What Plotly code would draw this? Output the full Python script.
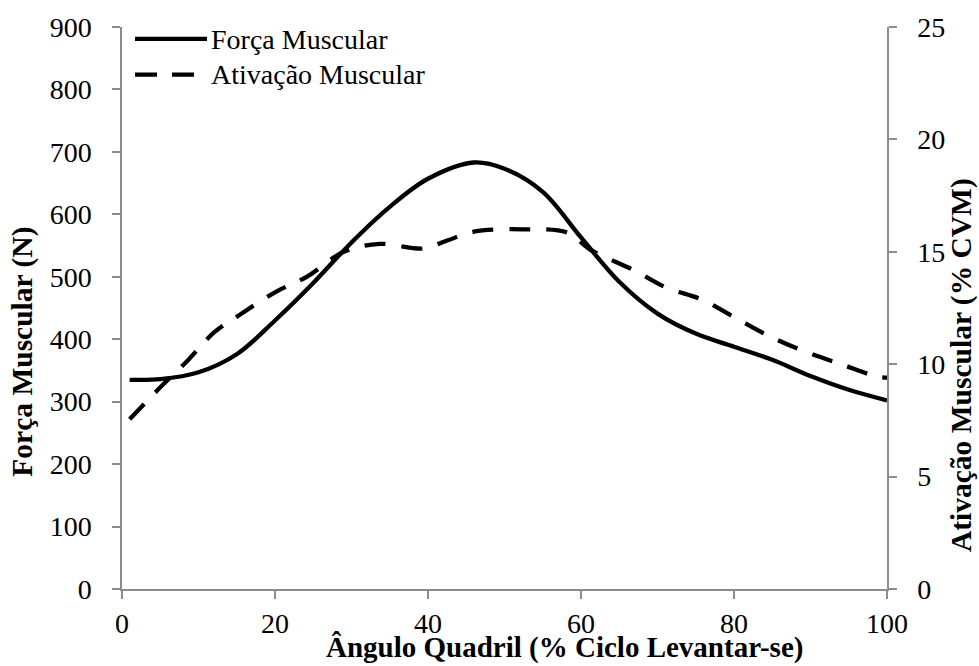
import plotly.graph_objects as go

# Data
x_force = [1, 5, 10, 15, 20, 25, 30, 35, 40, 46, 50, 55, 60, 65, 70, 75, 80, 85, 90, 95, 100]
force = [335, 336, 347, 376, 430, 490, 555, 612, 657, 683, 673, 636, 563, 492, 441, 409, 388, 367, 341, 319, 302]

x_act = [1, 4.5, 8.4, 12, 15.4, 20, 24.2, 29, 33.7, 39.4, 42.5, 46, 52.4, 58.2, 61.2, 66.8, 71.2, 75.6, 80, 84.3, 89, 94, 98.7, 100]
act = [7.55, 8.8, 10.1, 11.4, 12.2, 13.2, 13.9, 15.0, 15.35, 15.15, 15.5, 15.9, 16.0, 15.85, 15.1, 14.2, 13.4, 12.9, 12.1, 11.3, 10.6, 10.0, 9.45, 9.4]

x_ticks = [0, 20, 40, 60, 80, 100]
y_ticks = [0, 100, 200, 300, 400, 500, 600, 700, 800, 900]
y2_ticks = [0, 5, 10, 15, 20, 25]

FONT = "Liberation Serif, Times New Roman, serif"
AX = "#8c8c8c"

fig = go.Figure()
fig.add_trace(go.Scatter(x=x_force, y=force, mode="lines", name="Força Muscular",
                         line=dict(color="black", width=4.3, shape="spline", smoothing=1.0),
                         showlegend=False))
fig.add_trace(go.Scatter(x=x_act, y=act, mode="lines", name="Ativação Muscular", yaxis="y2",
                         line=dict(color="black", width=4.3, shape="spline", smoothing=1.0, dash="21px,16px"),
                         showlegend=False))

W, H = 979, 666
L, R, T, B = 122, 92, 23, 77
pw, ph = W - L - R, H - T - B

def px(xp):
    return (xp - L) / pw

def py(yp):
    return (H - B - yp) / ph

axis_common = dict(showline=True, linecolor=AX, linewidth=1.5, ticks="outside", ticklen=8,
                   tickcolor=AX, tickwidth=1.5, showgrid=False, zeroline=False,
                   tickfont=dict(family=FONT, size=28, color="black"))

fig.update_layout(
    width=W, height=H,
    margin=dict(l=L, r=R, t=T, b=B),
    paper_bgcolor="white", plot_bgcolor="white",
    xaxis=dict(range=[0, 100], tickvals=x_ticks, ticklabelstandoff=1, **axis_common),
    yaxis=dict(range=[0, 900], tickvals=y_ticks, ticklabelstandoff=15, **axis_common),
    yaxis2=dict(range=[0, 25], tickvals=y2_ticks, overlaying="y", side="right",
                ticklabelstandoff=15, **axis_common),
    showlegend=False,
)

# Axis titles
fig.add_annotation(text="<b>Ângulo Quadril (% Ciclo Levantar-se)</b>", xref="paper", yref="paper",
                   x=px(564), y=py(666), xanchor="center", yanchor="bottom", showarrow=False,
                   font=dict(family=FONT, size=29, color="black"), borderpad=0)
fig.add_annotation(text="<b>Força Muscular (N)</b>", xref="paper", yref="paper",
                   x=px(23), y=py(350), xanchor="center", yanchor="middle", showarrow=False,
                   textangle=-90, font=dict(family=FONT, size=29.5, color="black"), borderpad=0)
fig.add_annotation(text="<b>Ativação Muscular (% CVM)</b>", xref="paper", yref="paper",
                   x=px(979), y=py(364), xanchor="right", yanchor="middle", showarrow=False,
                   textangle=-90, font=dict(family=FONT, size=29.5, color="black"), borderpad=0)

# Legend (drawn manually)
fig.add_shape(type="line", xref="paper", yref="paper", x0=px(135), x1=px(207), y0=py(35), y1=py(35),
              line=dict(color="black", width=4.3))
fig.add_shape(type="line", xref="paper", yref="paper", x0=px(135), x1=px(196), y0=py(71), y1=py(71),
              line=dict(color="black", width=4.3, dash="22px,15px"))
fig.add_annotation(text="Força Muscular", xref="paper", yref="paper", x=px(209), y=py(36),
                   xanchor="left", yanchor="middle", showarrow=False,
                   font=dict(family=FONT, size=28, color="black"))
fig.add_annotation(text="Ativação Muscular", xref="paper", yref="paper", x=px(209), y=py(71),
                   xanchor="left", yanchor="middle", showarrow=False,
                   font=dict(family=FONT, size=28, color="black"))

fig.write_html("out.html")
